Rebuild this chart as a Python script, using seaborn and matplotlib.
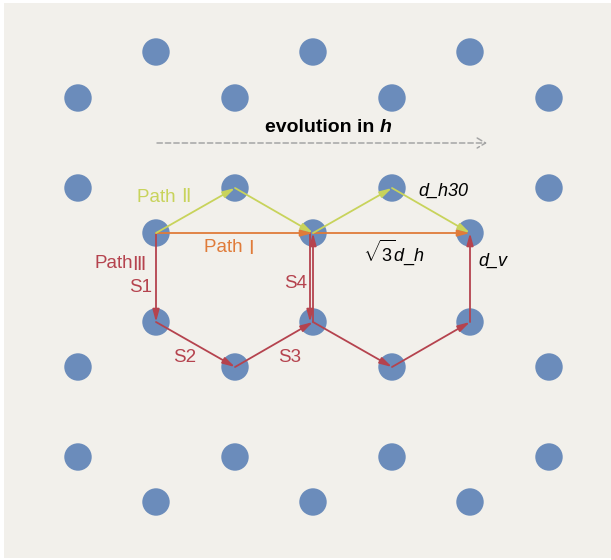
import matplotlib
matplotlib.use("Agg")
import matplotlib.pyplot as plt
import pandas as pd
import seaborn as sns
from matplotlib.patches import Rectangle
from matplotlib.transforms import offset_copy

# lattice sites (pixel-like units, y grows downward)
site_x = [156, 313, 470,
          78, 235, 392, 549,
          78, 235, 392, 549,
          156, 313, 470,
          156, 313, 470,
          78, 235, 392, 549,
          78, 235, 392, 549,
          156, 313, 470]
site_y = [52] * 3 + [98] * 4 + [188] * 4 + [233] * 3 + \
         [322] * 3 + [367] * 4 + [457] * 4 + [502] * 3

# paths: list of (x0, y0, x1, y1)
path1 = [(156, 233, 313, 233), (313, 233, 470, 233)]
path2 = [(156, 233, 235, 188), (235, 188, 313, 233),
         (313, 233, 392, 188), (392, 188, 470, 233)]
path3 = [(156, 233, 156, 322), (156, 322, 235, 367), (235, 367, 313, 322),
         (313, 322, 313, 233), (310, 233, 310, 322),
         (313, 322, 392, 367), (392, 367, 470, 322), (470, 322, 470, 233)]

c_dot = "#6B8CBB"
c_bg = "#F2F0EB"
c_p1 = "#E07B39"
c_p2 = "#C8D35B"
c_p3 = "#B5434E"

sns.set_theme(style="white")
plt.rcParams["font.family"] = ["Liberation Sans", "Noto Sans CJK SC", "DejaVu Sans"]
plt.rcParams["mathtext.fontset"] = "custom"
plt.rcParams["mathtext.rm"] = "Liberation Sans"
plt.rcParams["mathtext.it"] = "Liberation Sans:italic"
plt.rcParams["mathtext.bf"] = "Liberation Sans:bold"

fig = plt.figure(figsize=(6.11, 5.6), dpi=100, facecolor="white")
ax = fig.add_axes([0, 0, 1, 1])
ax.set_facecolor("none")
ax.set_xlim(0, 611)
ax.set_ylim(560, 0)
ax.add_patch(Rectangle((4, 3), 607, 555, facecolor=c_bg, edgecolor="none", zorder=0))

df = pd.DataFrame({"x": site_x, "y": site_y})
sns.scatterplot(data=df, x="x", y="y", s=390, color=c_dot, edgecolor="none",
                linewidth=0, ax=ax, zorder=2, legend=False)


def draw(segs, color):
    for x0, y0, x1, y1 in segs:
        ax.annotate("", xy=(x1, y1), xytext=(x0, y0), zorder=3,
                    arrowprops=dict(arrowstyle="-|>,head_length=0.8,head_width=0.22",
                                    color=color, lw=1.3, shrinkA=0, shrinkB=0,
                                    mutation_scale=9))


draw(path3, c_p3)
draw(path1, c_p1)
draw(path2, c_p2)

# evolution arrow
ax.annotate("", xy=(487, 143), xytext=(157, 143), zorder=3,
            arrowprops=dict(arrowstyle="->,head_length=0.5,head_width=0.3",
                            color="#A5A5A5", lw=1.1, linestyle=(0, (3.5, 2)),
                            shrinkA=0, shrinkB=0, mutation_scale=12))

renderer = fig.canvas.get_renderer()


def pieces(x, y, parts, **kw):
    # draw text pieces one after another, starting at x (left)
    trans = ax.transData
    for s, extra in parts:
        props = dict(kw)
        props.update(extra)
        t = ax.text(x, y, s, ha="left", va="center", transform=trans, **props)
        w = t.get_window_extent(renderer).width
        trans = offset_copy(trans, fig=fig, x=w * 72 / fig.dpi, units="points")


pieces(265, 128, [("evolution in ", {}), ("h", {"fontstyle": "italic"})],
       fontsize=14, fontweight="bold", color="black")

fs = 13.5
rom = {"family": ["DejaVu Sans"], "fontsize": 14}
pieces(137, 197, [("Path ", {}), ("Ⅱ", rom)], fontsize=fs, color=c_p2)
pieces(204, 248, [("Path ", {}), ("Ⅰ", rom)], fontsize=fs, color=c_p1)
pieces(94, 264, [("Path", {}), ("Ⅲ", rom)], fontsize=fs, color=c_p3)
ax.text(152, 288, "S1", fontsize=fs, color=c_p3, ha="right", va="center")
ax.text(307, 283, "S4", fontsize=fs, color=c_p3, ha="right", va="center")
ax.text(173, 358, "S2", fontsize=fs, color=c_p3, ha="left", va="center")
ax.text(278, 358, "S3", fontsize=fs, color=c_p3, ha="left", va="center")

ax.text(418, 191, "d_h30", fontsize=13, fontstyle="italic", color="black",
        ha="left", va="center")
ax.text(363, 252, r"$\sqrt{\mathit{3}}d\_h$", fontsize=13, color="black",
        ha="left", va="center")
ax.text(478, 261, "d_v", fontsize=13, fontstyle="italic", color="black",
        ha="left", va="center")

ax.set_xlabel("")
ax.set_ylabel("")
ax.axis("off")

fig.savefig("out.png", dpi=100, facecolor="white")
